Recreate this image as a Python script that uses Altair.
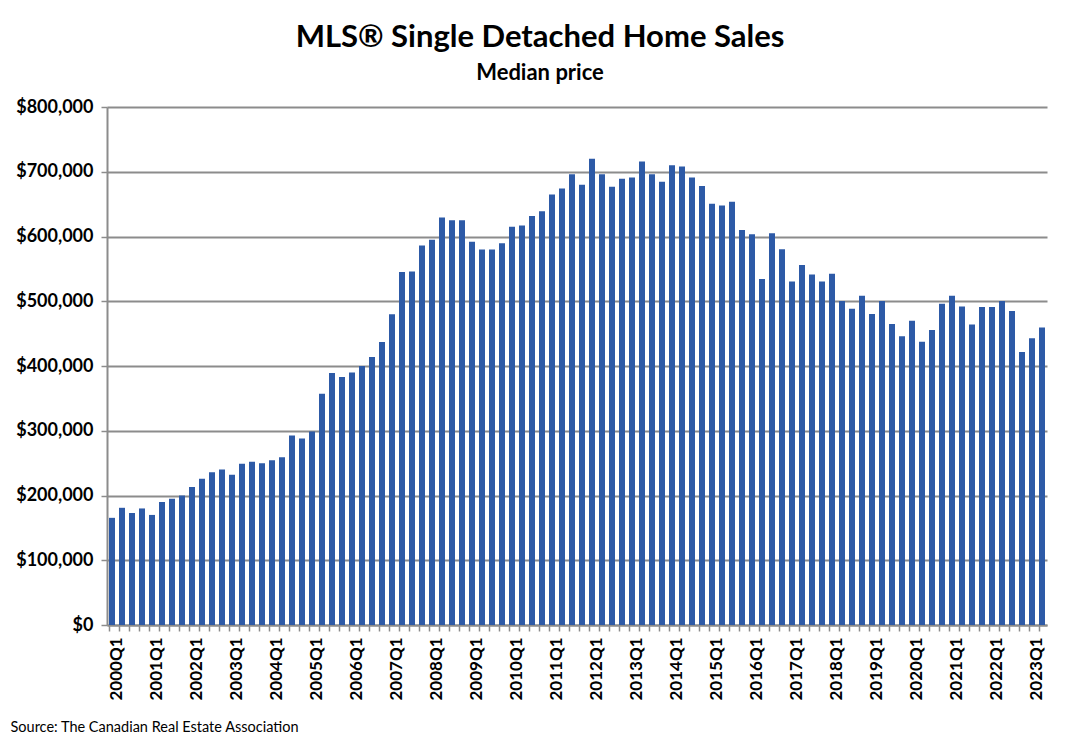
import altair as alt
import pandas as pd

years = list(range(2000, 2024))
quarters = [f"{y}Q{q}" for y in years for q in range(1, 5)][:94]

prices_2000_2005 = [165500, 181000, 173000, 180000, 170000, 190000, 195000, 200000,
                    213000, 226000, 236000, 240000, 232000, 249000, 252000, 250000,
                    254500, 259000, 292500, 288000, 299000, 357000, 389000]
prices_2005_2011 = [383000, 390000, 400000, 414000, 437000, 480000, 545000, 546000,
                    586000, 595000, 629500, 625000, 625000, 592000, 580000, 580000,
                    589500, 615000, 617000, 631500, 639000, 665000]
prices_2011_2016 = [674000, 696000, 680000, 720000, 696000, 677000, 689000, 691000,
                    716000, 696000, 684500, 710000, 708000, 691000, 678000, 650500,
                    648000, 653500, 610000, 603500, 534500, 605000]
prices_2016_2023 = [580500, 530500, 556000, 541500, 530500, 542500, 500500, 488500,
                    508500, 480500, 500500, 465000, 446000, 470000, 437500, 455500,
                    496000, 508500, 492000, 464000, 491000, 491000, 500500, 485000,
                    421500, 443000, 459500]
prices = prices_2000_2005 + prices_2005_2011 + prices_2011_2016 + prices_2016_2023

y_ticks = [0, 100000, 200000, 300000, 400000, 500000, 600000, 700000, 800000]

title_text = "MLS® Single Detached Home Sales"
subtitle_text = "Median price"
source_text = "Source: The Canadian Real Estate Association"

df = pd.DataFrame({"quarter": quarters, "price": prices})

FONT = "Lato"
GRID = "#8c8c8c"
W, H = 940, 518

chart = alt.Chart(df).mark_bar(color="#2D5AA7").encode(
    x=alt.X("quarter:N", sort=quarters,
            scale=alt.Scale(paddingInner=0.4, paddingOuter=0.2),
            axis=alt.Axis(title=source_text, titleFont=FONT, titleFontWeight="normal",
                          titleFontSize=14.5, titleColor="black", titleAnchor="start",
                          titleAlign="left", titleBaseline="alphabetic",
                          titleX=-97, titleY=106,
                          labelAngle=270, labelOverlap=False,
                          labelExpr="slice(datum.label, 4) == 'Q1' ? datum.label : ''",
                          labelFont=FONT, labelFontWeight="bold", labelFontSize=17,
                          labelColor="black", labelPadding=6,
                          bandPosition=0, labelOffset=5,
                          tickSize=6, tickColor=GRID, tickWidth=1.5,
                          domainColor=GRID, domainWidth=2, grid=False)),
    y=alt.Y("price:Q", scale=alt.Scale(domain=[0, 800000], nice=False),
            axis=alt.Axis(title=None, values=y_ticks, format="$,.0f",
                          labelFont=FONT, labelFontWeight="bold", labelFontSize=18,
                          labelColor="black", labelPadding=8,
                          tickSize=6, tickColor=GRID, tickWidth=1.5,
                          domainColor=GRID, domainWidth=2,
                          grid=True, gridColor=GRID, gridWidth=2)),
).properties(
    width=W, height=H,
    padding={"left": 2, "top": 14, "right": 5, "bottom": 3},
    background="white",
    title=alt.TitleParams(text=title_text, subtitle=subtitle_text, anchor="middle",
                          dx=-37, offset=13, font=FONT, fontSize=31, fontWeight="bold",
                          color="black", subtitleFont=FONT, subtitleFontSize=22,
                          subtitleFontWeight="bold", subtitleColor="black",
                          subtitlePadding=9),
).configure_view(stroke=None)

chart.save("out.html", embed_options={"renderer": "svg", "actions": False})
